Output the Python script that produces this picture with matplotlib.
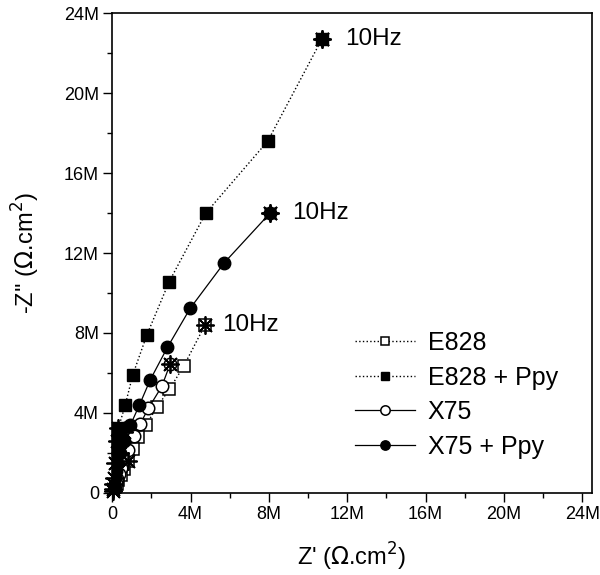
import numpy as np
import matplotlib.pyplot as plt
from matplotlib.ticker import MultipleLocator, FuncFormatter

plt.rcParams['font.family'] = ['Liberation Sans', 'DejaVu Sans']

# Nyquist data, values in M ohm.cm2 (10 Hz point first)
e828_x = [4.74, 3.64, 2.92, 2.28, 1.73, 1.34, 1.05, 0.80, 0.60, 0.45, 0.32, 0.22, 0.14, 0.08, 0.04]
e828_y = [8.40, 6.32, 5.18, 4.28, 3.40, 2.78, 2.18, 1.60, 1.20, 0.90, 0.65, 0.45, 0.28, 0.14, 0.05]

e828ppy_x = [10.7, 7.94, 4.78, 2.91, 1.77, 1.05, 0.66, 0.32, 0.22, 0.16, 0.12, 0.09, 0.07, 0.05, 0.03, 0.02]
e828ppy_y = [22.7, 17.6, 14.0, 10.57, 7.90, 5.90, 4.37, 3.25, 2.60, 2.00, 1.50, 1.10, 0.75, 0.45, 0.20, 0.08]

x75_x = [2.96, 2.53, 1.85, 1.43, 1.09, 0.83, 0.60, 0.45, 0.33, 0.24, 0.17, 0.11, 0.07, 0.04]
x75_y = [6.45, 5.32, 4.23, 3.45, 2.82, 2.15, 1.65, 1.25, 0.95, 0.70, 0.48, 0.30, 0.16, 0.06]

x75ppy_x = [8.06, 5.71, 3.98, 2.82, 1.94, 1.38, 0.92, 0.60, 0.40, 0.27, 0.18, 0.12, 0.08, 0.05, 0.03]
x75ppy_y = [14.0, 11.5, 9.23, 7.28, 5.65, 4.37, 3.37, 2.60, 2.00, 1.50, 1.10, 0.75, 0.45, 0.22, 0.08]

# frequency marks (stars)
star_x = [10.7, 8.06, 4.74, 2.96, 0.32, 0.60, 0.80, 0.40, 0.22, 0.12, 0.07, 0.05, 0.03, 0.02]
star_y = [22.7, 14.0, 8.40, 6.45, 3.25, 3.05, 1.60, 2.00, 2.60, 1.50, 0.75, 0.45, 0.20, 0.08]

hz_labels = ['10Hz', '10Hz', '10Hz']
hz_x = [11.9, 9.2, 5.6]
hz_y = [22.7, 14.0, 8.4]

M = 1e6
fig = plt.figure(figsize=(6, 5.75), dpi=100)
ax = fig.add_axes([0.187, 0.143, 0.8, 0.834])

ax.plot(np.array(e828_x) * M, np.array(e828_y) * M, ls=':', lw=1, color='k',
        marker='s', ms=8, mfc='white', mec='k', mew=1.1, label='E828')
ax.plot(np.array(e828ppy_x) * M, np.array(e828ppy_y) * M, ls=':', lw=1, color='k',
        marker='s', ms=8.5, mfc='k', mec='k', label='E828 + Ppy')
ax.plot(np.array(x75_x) * M, np.array(x75_y) * M, ls='-', lw=0.9, color='k',
        marker='o', ms=9, mfc='white', mec='k', mew=1.1, label='X75')
ax.plot(np.array(x75ppy_x) * M, np.array(x75ppy_y) * M, ls='-', lw=0.9, color='k',
        marker='o', ms=9, mfc='k', mec='k', label='X75 + Ppy')

ax.plot(np.array(star_x) * M, np.array(star_y) * M, ls='none', marker=(8, 2, 0),
        ms=13, mec='k', mew=1.3, clip_on=False)
ax.plot(np.array(star_x[:2]) * M, np.array(star_y[:2]) * M, ls='none', marker=(8, 1, 0),
        ms=13, mfc='k', mec='k', clip_on=False)

for t, x, y in zip(hz_labels, hz_x, hz_y):
    ax.text(x * M, y * M, t, fontsize=17.5, ha='left', va='center')

ax.set_xlim(0, 24.5 * M)
ax.set_ylim(0, 24 * M)
fmt = FuncFormatter(lambda v, p: '0' if v == 0 else '%dM' % round(v / M))
for axis in (ax.xaxis, ax.yaxis):
    axis.set_major_locator(MultipleLocator(4 * M))
    axis.set_minor_locator(MultipleLocator(2 * M))
    axis.set_major_formatter(fmt)
ax.tick_params(which='major', direction='out', length=6.5, width=1, labelsize=13, pad=3)
ax.tick_params(which='minor', direction='out', length=3.5, width=1)
for s in ax.spines.values():
    s.set_linewidth(1.2)

ax.set_xlabel("Z' ($\\Omega$.cm$^2$)", fontsize=17, labelpad=13)
ax.set_ylabel("-Z'' ($\\Omega$.cm$^2$)", fontsize=17, labelpad=16)

ax.legend(loc='center left', bbox_to_anchor=(0.506, 0.204), frameon=False,
          fontsize=18, handlelength=2.4, handletextpad=0.5, labelspacing=0.42,
          borderpad=0, borderaxespad=0, markerscale=0.75)

fig.savefig('out.png', dpi=100)
